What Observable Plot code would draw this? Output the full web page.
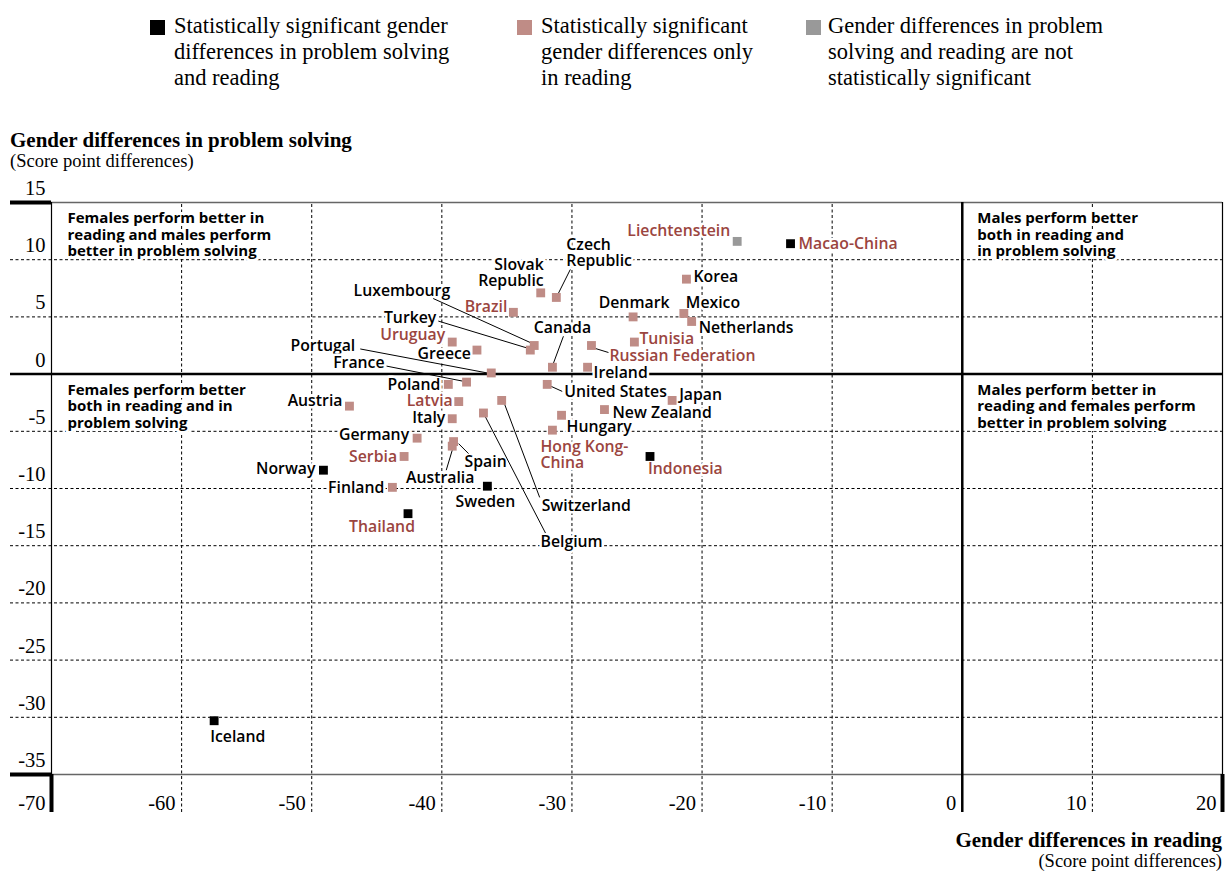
<!DOCTYPE html>
<html><head><meta charset="utf-8">
<script src="https://cdn.jsdelivr.net/npm/d3@7"></script>
<script src="https://cdn.jsdelivr.net/npm/@observablehq/plot@0.6"></script>
<style>
body{margin:0;background:#fff;width:1225px;height:873px;position:relative;overflow:hidden;font-family:"Liberation Serif",serif;color:#000;}
.abs{position:absolute;white-space:nowrap;}
.leg{font-size:22.5px;line-height:26px;}
.sw{position:absolute;width:15px;height:15px;}
#chart{position:absolute;left:0;top:178px;}
</style></head><body>
<div id="legend"></div>
<div class="abs" style="left:10px;top:128px;font-weight:bold;font-size:21px;line-height:24px;">Gender differences in problem solving</div>
<div class="abs" style="left:10px;top:150px;font-size:18.5px;line-height:22px;">(Score point differences)</div>
<div id="chart"></div>
<div class="abs" style="right:3px;top:828px;font-weight:bold;font-size:21px;line-height:24px;">Gender differences in reading</div>
<div class="abs" style="right:3px;top:850px;font-size:18.5px;line-height:22px;">(Score point differences)</div>
<script>
// ---------------- data ----------------
const countries = ["Macao-China","Liechtenstein","Korea","Mexico","Netherlands","Denmark","Tunisia","Russian Federation","Ireland","Canada","Czech Republic","Slovak Republic","Brazil","Luxembourg","Turkey","Greece","Uruguay","Portugal","France","Poland","United States","Latvia","Switzerland","Belgium","Italy","Hungary","Hong Kong-China","New Zealand","Japan","Austria","Germany","Spain","Australia","Serbia","Indonesia","Norway","Finland","Sweden","Thailand","Iceland"];
const reading = [-13.2,-17.3,-21.2,-21.4,-20.8,-25.3,-25.2,-28.5,-28.8,-31.5,-31.2,-32.4,-34.5,-32.9,-33.2,-37.3,-39.2,-36.2,-38.1,-39.5,-31.9,-38.7,-35.4,-36.8,-39.2,-30.8,-31.5,-27.5,-22.3,-47.1,-41.9,-39.1,-39.2,-42.9,-24.0,-49.1,-43.8,-36.5,-42.6,-57.5];
const problemSolving = [11.4,11.6,8.3,5.3,4.6,5.0,2.8,2.5,0.6,0.6,6.7,7.1,5.4,2.5,2.1,2.1,2.8,0.1,-0.7,-0.9,-0.9,-2.4,-2.3,-3.4,-3.9,-3.6,-4.9,-3.1,-2.3,-2.8,-5.6,-5.9,-6.3,-7.2,-7.2,-8.4,-9.9,-9.8,-12.2,-30.3];
const bothSignificant = ["Macao-China","Indonesia","Norway","Sweden","Thailand","Iceland"];
const notSignificant = ["Liechtenstein"];
const partners = ["Macao-China","Liechtenstein","Tunisia","Russian Federation","Brazil","Uruguay","Latvia","Hong Kong-China","Serbia","Indonesia","Thailand"];
const xTicks = [-70,-60,-50,-40,-30,-20,-10,0,10,20];
const yTicks = [15,10,5,0,-5,-10,-15,-20,-25,-30,-35];
const xGrid = [-60,-50,-40,-30,-20,-10,10];
const yGrid = [10,5,-5,-10,-15,-20,-25,-30];
const legendKeys = ["both","reading","none"];
const legendLabels = ["Statistically significant gender<br>differences in problem solving<br>and reading","Statistically significant<br>gender differences only<br>in reading","Gender differences in problem<br>solving and reading are not<br>statistically significant"];
const quadrantTexts = ["Females perform better in\nreading and males perform\nbetter in problem solving","Males perform better\nboth in reading and\nin problem solving","Females perform better\nboth in reading and in\nproblem solving","Males perform better in\nreading and females perform\nbetter in problem solving"];

// ---------------- styles / layout ----------------
const colors = {both:"#000000", reading:"#bf8c86", none:"#999999"};
const partnerColor = "#9b4540";
const W=1225,H=642,MT=24,MB=46,ML=51,MR=3;
const X0=-70,X1=20,Y0=-35,Y1=15;
const kx=(W-ML-MR)/(X1-X0), ky=(H-MT-MB)/(Y1-Y0);
const leftExt = X0 - (ML-10)/kx;
const bottomExt = Y0 - 38/ky;
const sans = "'Open Sans', sans-serif";
const serif = "'Liberation Serif', serif";

// label placement [anchor, dx px, dy px, optional text]
const labelLayout = {
 "Macao-China":["start",8,0], "Liechtenstein":["end",-7,-11], "Korea":["start",7,-2],
 "Mexico":["start",2,-11], "Netherlands":["start",7,6], "Denmark":["middle",1,-14],
 "Tunisia":["start",5,-3], "Russian Federation":["start",18,10], "Ireland":["start",6,6],
 "Canada":["middle",10,-39], "Czech Republic":["start",10,-45,"Czech\nRepublic"],
 "Slovak Republic":["end",3,-20,"Slovak\nRepublic"], "Brazil":["end",-6,-5],
 "Luxembourg":["end",-84,-55], "Turkey":["end",-94,-32], "Greece":["end",-6,4],
 "Uruguay":["end",-7,-7], "Portugal":["end",-136,-27], "France":["end",-82,-19],
 "Poland":["end",-8,0], "United States":["start",17,7], "Latvia":["end",-6,-1],
 "Switzerland":["start",40,105], "Belgium":["start",57,129], "Italy":["end",-7,-1],
 "Hungary":["start",5,12], "Hong Kong-China":["start",-12,25,"Hong Kong-\nChina"],
 "New Zealand":["start",8,3], "Japan":["start",7,-6], "Austria":["end",-7,-5],
 "Germany":["end",-8,-3], "Spain":["start",11,20], "Australia":["middle",-12,32],
 "Serbia":["end",-7,0], "Indonesia":["start",-2,12], "Norway":["end",-8,-1],
 "Finland":["end",-8,0], "Sweden":["middle",-2,16], "Thailand":["middle",-26,13],
 "Iceland":["start",-4,16]
};
// leader lines [x1,y1,x2,y2] px offsets from point
const leaderLayout = {
 "Russian Federation":[4,3,17,7], "Canada":[1,-4,11,-31], "Czech Republic":[2,-4,14,-28],
 "Luxembourg":[-4,-3,-101,-47], "Turkey":[-3,-2,-92,-29], "Portugal":[-4,0,-131,-24],
 "France":[-4,-1,-80,-16], "Spain":[5,2,15,12], "Australia":[0,4,-6,24],
 "Belgium":[2,4,62,120], "Switzerland":[3,4,38,97], "United States":[4,2,15,7]
};

const data = countries.map((c,i)=>({
  country:c, x:reading[i], y:problemSolving[i],
  group: bothSignificant.includes(c) ? "both" : notSignificant.includes(c) ? "none" : "reading",
  partner: partners.includes(c)
}));
const labels = data.map(d=>{
  const L = labelLayout[d.country];
  return {anchor:L[0], lx:d.x+L[1]/kx, ly:d.y-L[2]/ky, text:L[3]||d.country, fill:d.partner?partnerColor:"#000"};
});
const leaders = data.filter(d=>leaderLayout[d.country]).map(d=>{
  const o = leaderLayout[d.country];
  return {x1:d.x+o[0]/kx, y1:d.y-o[1]/ky, x2:d.x+o[2]/kx, y2:d.y-o[3]/ky};
});

// legend
const leg = document.getElementById("legend");
const legX = [[150,174],[517,541],[806,828]];
legendKeys.forEach((k,i)=>{
  const s=document.createElement("div"); s.className="sw";
  s.style.left=legX[i][0]+"px"; s.style.top="20px"; s.style.background=colors[k]; leg.appendChild(s);
  const t=document.createElement("div"); t.className="abs leg";
  t.style.left=legX[i][1]+"px"; t.style.top="13px"; t.innerHTML=legendLabels[i]; leg.appendChild(t);
});

const labelText = (anchor) => Plot.text(labels.filter(l=>l.anchor===anchor), {
  x:"lx", y:"ly", text:"text", fill:"fill", textAnchor:anchor, fontFamily:sans, fontWeight:600,
  fontSize:15.8, lineHeight:1.02, stroke:"white", strokeWidth:5
});
const quad = {fontFamily:sans, fontWeight:700, fontSize:15, lineHeight:1.1, textAnchor:"start",
  lineAnchor:"top", stroke:"white", strokeWidth:6, fill:"#000"};

const chart = Plot.plot({
  width:W, height:H, marginTop:MT, marginBottom:MB, marginLeft:ML, marginRight:MR,
  x:{domain:[X0,X1], label:null}, y:{domain:[Y0,Y1], label:null},
  color:{type:"identity"},
  style:{background:"transparent", overflow:"visible"},
  marks:[
    Plot.ruleY(yGrid, {x1:leftExt, x2:X1, stroke:"#000", strokeWidth:1, strokeDasharray:"3,2.5"}),
    Plot.ruleX(xGrid, {y1:bottomExt, y2:Y1, stroke:"#000", strokeWidth:1, strokeDasharray:"3,2.5"}),
    Plot.ruleY([Y1,Y0], {x1:X0, x2:X1, stroke:"#666", strokeWidth:1.5}),
    Plot.ruleY([Y1,Y0], {x1:leftExt, x2:X0, stroke:"#000", strokeWidth:4}),
    Plot.ruleX([X0,X1], {y1:Y0, y2:Y1, stroke:"#000", strokeWidth:1.2}),
    Plot.ruleX([X0,X1], {y1:bottomExt, y2:Y0, stroke:"#000", strokeWidth:4}),
    Plot.ruleY([0], {x1:leftExt, x2:X1, stroke:"#000", strokeWidth:2.5}),
    Plot.ruleX([0], {y1:bottomExt, y2:Y1, stroke:"#000", strokeWidth:2.5}),
    Plot.axisY(yTicks, {anchor:"left", tickSize:0, tickPadding:6, dy:-14, fontSize:20.5, fontFamily:serif, tickFormat:d=>String(d), label:null, fill:"#000"}),
    Plot.axisX(xTicks, {anchor:"bottom", tickSize:0, tickPadding:21, dx:-6, textAnchor:"end", fontSize:20.5, fontFamily:serif, tickFormat:d=>String(d), label:null, fill:"#000"}),
    Plot.text([quadrantTexts[0]], {frameAnchor:"top-left", dx:16, dy:9, ...quad}),
    Plot.text([quadrantTexts[1]], {x:0, frameAnchor:"top", dx:15, dy:9, ...quad}),
    Plot.text([quadrantTexts[2]], {x:X0, y:0, dx:16, dy:9, ...quad}),
    Plot.text([quadrantTexts[3]], {x:0, y:0, dx:15, dy:9, ...quad}),
    labelText("start"), labelText("end"), labelText("middle"),
    Plot.link(leaders, {x1:"x1", y1:"y1", x2:"x2", y2:"y2", stroke:"#000", strokeWidth:1}),
    Plot.dot(data, {x:"x", y:"y", symbol:"square", r:5, fill:d=>colors[d.group], stroke:null})
  ]
});
document.getElementById("chart").appendChild(chart);
</script>
</body></html>
